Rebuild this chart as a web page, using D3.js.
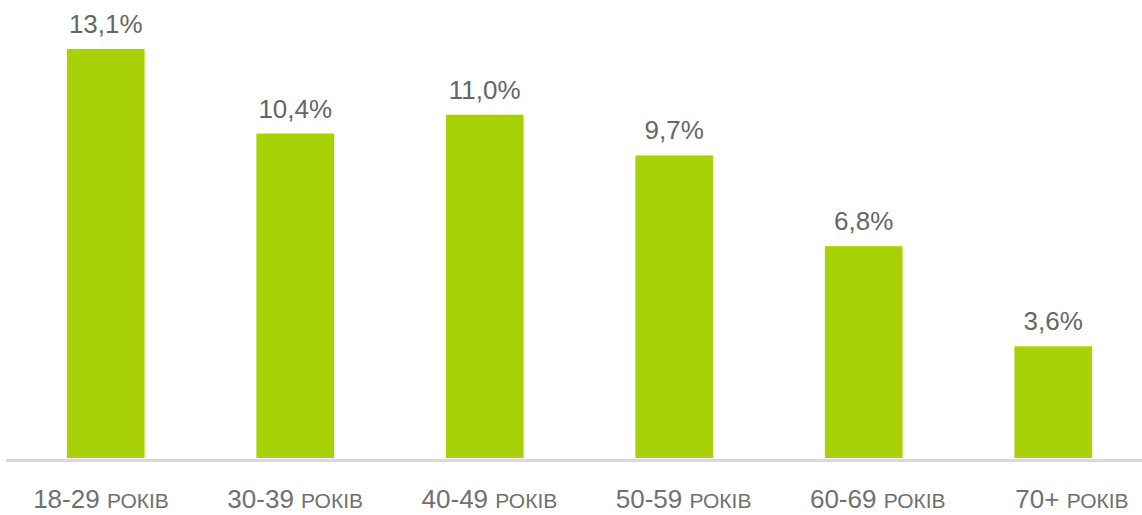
<!DOCTYPE html>
<html><head><meta charset="utf-8">
<script src="https://cdn.jsdelivr.net/npm/d3@7"></script>
<style>body{margin:0;background:#fff}svg{display:block}</style>
</head><body>
<script>
const ages = ["18-29", "30-39", "40-49", "50-59", "60-69", "70+"];
const unit = "РОКІВ";
const values = [13.1, 10.4, 11.0, 9.7, 6.8, 3.6];

const W = 1142, H = 515;
const svg = d3.select("body").append("svg").attr("width", W).attr("height", H);
const base = 459;
const x = d3.scaleBand().domain(ages).range([11, 1148]).paddingInner(0.59).paddingOuter(0.295);
const xl = d3.scalePoint().domain(ages).range([101, 1072]);
const y = d3.scaleLinear().domain([0, 13.1]).range([base, 49]);

svg.append("line").attr("x1", 6).attr("x2", W).attr("y1", base + 1.5).attr("y2", base + 1.5)
  .attr("stroke", "#d9d9d9").attr("stroke-width", 3);

svg.selectAll("rect.bar").data(values).join("rect").attr("class", "bar")
  .attr("x", (d, i) => x(ages[i])).attr("width", x.bandwidth())
  .attr("y", d => y(d)).attr("height", d => y(0) - y(d) - 1)
  .attr("fill", "#a8d108");

svg.selectAll("text.val").data(values).join("text").attr("class", "val")
  .attr("x", (d, i) => x(ages[i]) + x.bandwidth() / 2).attr("y", d => y(d) - 16)
  .attr("text-anchor", "middle").attr("font-family", "'Liberation Sans', Arial, sans-serif")
  .attr("font-size", 26).attr("fill", "#666666")
  .text(d => d.toFixed(1).replace(".", ",") + "%");

const cat = svg.selectAll("text.cat").data(ages).join("text").attr("class", "cat")
  .attr("x", d => xl(d)).attr("y", 508)
  .attr("text-anchor", "middle").attr("font-family", "'Liberation Sans', Arial, sans-serif")
  .attr("fill", "#707070");
cat.append("tspan").attr("font-size", 26).text(d => d + " ");
cat.append("tspan").attr("font-size", 21).text(unit);
</script>
</body></html>
